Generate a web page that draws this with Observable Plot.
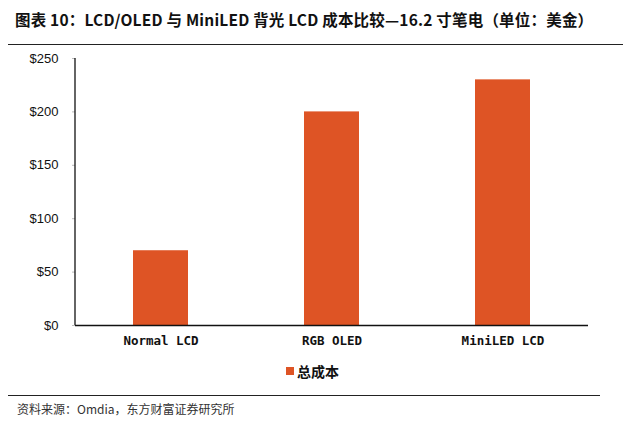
<!DOCTYPE html>
<html>
<head>
<meta charset="utf-8">
<script src="https://cdn.jsdelivr.net/npm/d3@7"></script>
<script src="https://cdn.jsdelivr.net/npm/@observablehq/plot@0.6"></script>
<style>
  html, body { margin: 0; padding: 0; background: #fff; }
  #wrap { position: relative; width: 640px; height: 430px; overflow: hidden; font-family: "Noto Sans CJK SC", sans-serif; }
  #title { position: absolute; left: 15px; top: 8px; font-size: 15.5px; font-weight: bold; color: #111; white-space: nowrap; letter-spacing: 0.2px; }
  #rule1 { position: absolute; left: 8px; top: 44px; width: 615px; height: 0; border-top: 1.5px solid #222; }
  #chart { position: absolute; left: 0; top: 45px; }
  #legend { position: absolute; left: 286px; top: 361px; font-size: 14px; font-weight: bold; color: #111; display: flex; align-items: center; white-space: nowrap; }
  #legend .sw { width: 8px; height: 8px; margin-right: 3px; }
  #rule2 { position: absolute; left: 8px; top: 395px; width: 592px; height: 0; border-top: 1.5px solid #222; }
  #source { position: absolute; left: 17px; top: 400px; font-size: 12px; color: #333; white-space: nowrap; }
</style>
</head>
<body>
<div id="wrap">
  <div id="title">图表 10：LCD/OLED 与 MiniLED 背光 LCD 成本比较—16.2 寸笔电（单位：美金）</div>
  <div id="rule1"></div>
  <div id="chart"></div>
  <div id="legend"></div>
  <div id="rule2"></div>
  <div id="source">资料来源：Omdia，东方财富证券研究所</div>
</div>
<script>
const categories = ["Normal LCD", "RGB OLED", "MiniLED LCD"];
const totalCost = [70, 200, 230];
const yTicks = [0, 50, 100, 150, 200, 250];
const seriesName = "总成本";
const barColor = "#DE5425";

const data = categories.map((c, i) => ({category: c, value: totalCost[i]}));

const chart = Plot.plot({
  width: 640,
  height: 310,
  marginLeft: 75,
  marginRight: 52,
  marginTop: 13,
  marginBottom: 30,
  style: {background: "transparent", color: "#111"},
  x: {domain: categories, paddingInner: 0.678, paddingOuter: 0.339, label: null},
  y: {domain: [0, 250], label: null},
  marks: [
    Plot.barY(data, {x: "category", y: "value", fill: barColor}),
    Plot.axisY({ticks: yTicks, tickSize: 3, tickPadding: 14, tickFormat: d => "$" + d,
      fontSize: 13, fontFamily: "Liberation Sans, Arial, sans-serif", stroke: "#bbb"}),
    Plot.axisX({tickSize: 0, tickPadding: 11, fontSize: 12.5, fontWeight: "bold",
      fontFamily: "DejaVu Sans Mono, monospace"}),
    Plot.ruleY([0], {stroke: "#111", strokeWidth: 1.3})
  ]
});
document.getElementById("chart").appendChild(chart);

// y axis line
d3.select(chart).append("line")
  .attr("x1", 75).attr("x2", 75)
  .attr("y1", 13).attr("y2", 280)
  .attr("stroke", "#111").attr("stroke-width", 1.3);

document.getElementById("legend").innerHTML =
  `<span class="sw" style="background:${barColor}"></span><span>${seriesName}</span>`;
</script>
</body>
</html>
